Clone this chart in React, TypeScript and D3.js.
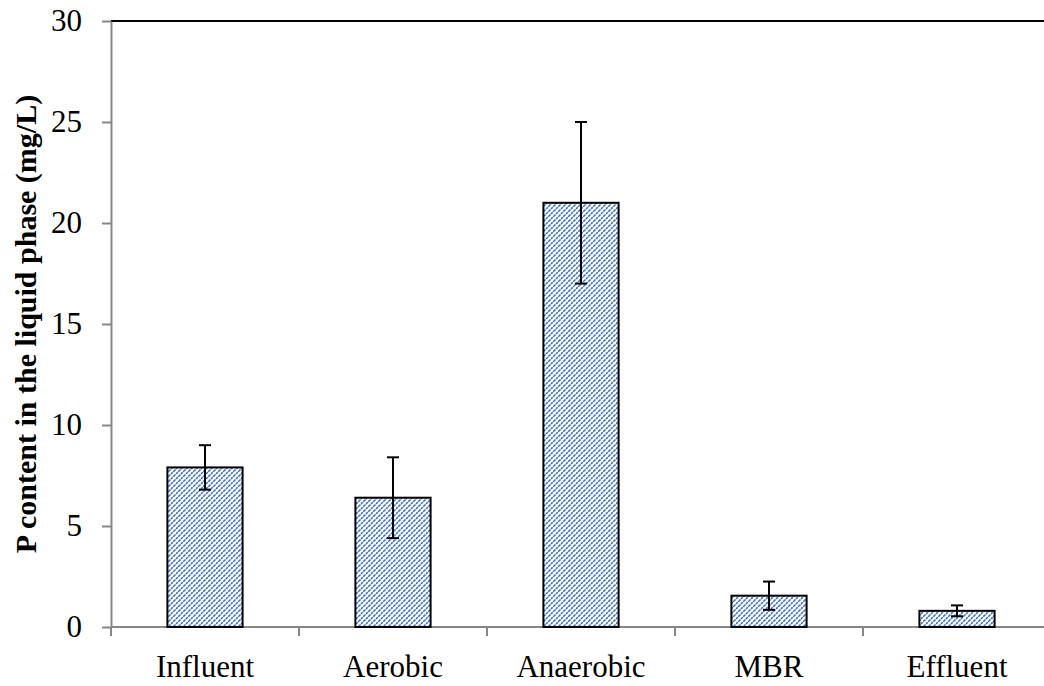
import React, { useEffect, useRef } from "react";
import * as d3 from "d3";

const categories = ["Influent", "Aerobic", "Anaerobic", "MBR", "Effluent"];
const values = [7.9, 6.4, 21.0, 1.55, 0.8];
const errors = [1.1, 2.0, 4.0, 0.7, 0.27];
const yTicks = [0, 5, 10, 15, 20, 25, 30];

const FONT = "'Liberation Serif', 'Times New Roman', serif";

const App = () => {
  const svgRef = useRef<SVGSVGElement>(null);

  useEffect(() => {
    const w = 1044;
    const left = 111;
    const top = 21;
    const bottom = 627;
    const band = 188;

    const svg = d3.select(svgRef.current);
    svg.selectAll("*").remove();

    // blue dotted diagonal hatch
    const pat = svg
      .append("defs")
      .append("pattern")
      .attr("id", "hatch")
      .attr("patternUnits", "userSpaceOnUse")
      .attr("width", 5)
      .attr("height", 5);
    pat.append("rect").attr("width", 5).attr("height", 5).attr("fill", "#ffffff");
    pat
      .append("path")
      .attr("d", "M-1,6 L6,-1 M-1,1 L1,-1 M4,6 L6,4")
      .attr("stroke", "#2f66c4")
      .attr("stroke-width", 1.5)
      .attr("stroke-dasharray", "2.2,0.8");

    const xScale = d3
      .scaleBand()
      .domain(categories)
      .range([left, left + band * categories.length])
      .paddingInner(0.6)
      .paddingOuter(0.3);

    const yScale = d3.scaleLinear().domain([0, 30]).range([bottom, top]);

    // top border
    svg
      .append("line")
      .attr("x1", left)
      .attr("x2", w)
      .attr("y1", top)
      .attr("y2", top)
      .attr("stroke", "#000")
      .attr("stroke-width", 2);

    // y axis
    const yAxis = d3
      .axisLeft(yScale)
      .tickValues(yTicks)
      .tickSize(9)
      .tickPadding(20)
      .tickSizeOuter(0);
    const gy = svg.append("g").attr("transform", `translate(${left},0)`).call(yAxis);
    gy.select(".domain").attr("stroke", "#868686").attr("stroke-width", 2);
    gy.selectAll(".tick line").attr("stroke", "#868686").attr("stroke-width", 2);
    gy.selectAll(".tick text")
      .attr("fill", "#000")
      .style("font-family", FONT)
      .style("font-size", "31px");

    // x axis with ticks at category boundaries
    const xBounds = d3.range(categories.length + 1).map((i) => left + band * i);
    svg
      .append("line")
      .attr("x1", left)
      .attr("x2", w)
      .attr("y1", bottom)
      .attr("y2", bottom)
      .attr("stroke", "#868686")
      .attr("stroke-width", 2);
    svg
      .selectAll(".xtick")
      .data(xBounds)
      .join("line")
      .attr("x1", (d) => d)
      .attr("x2", (d) => d)
      .attr("y1", bottom)
      .attr("y2", bottom + 9)
      .attr("stroke", "#868686")
      .attr("stroke-width", 2);
    svg
      .selectAll(".xlabel")
      .data(categories)
      .join("text")
      .attr("x", (d) => (xScale(d) as number) + xScale.bandwidth() / 2)
      .attr("y", 677)
      .attr("text-anchor", "middle")
      .style("font-family", FONT)
      .style("font-size", "31px")
      .text((d) => d);

    // bars
    svg
      .selectAll(".bar")
      .data(values)
      .join("rect")
      .attr("x", (v, i) => xScale(categories[i]) as number)
      .attr("y", (v) => yScale(v))
      .attr("width", xScale.bandwidth())
      .attr("height", (v) => bottom - yScale(v))
      .attr("fill", "url(#hatch)")
      .attr("stroke", "#000")
      .attr("stroke-width", 2);

    // error bars
    const eb = svg
      .selectAll(".err")
      .data(values)
      .join("g")
      .attr("transform", (v, i) => `translate(${(xScale(categories[i]) as number) + xScale.bandwidth() / 2},0)`);
    eb.append("line")
      .attr("y1", (v, i) => yScale(v + errors[i]))
      .attr("y2", (v, i) => yScale(v - errors[i]))
      .attr("stroke", "#000")
      .attr("stroke-width", 2);
    [1, -1].forEach((s) => {
      eb.append("line")
        .attr("x1", -6)
        .attr("x2", 6)
        .attr("y1", (v, i) => yScale(v + s * errors[i]))
        .attr("y2", (v, i) => yScale(v + s * errors[i]))
        .attr("stroke", "#000")
        .attr("stroke-width", 2);
    });

    // y title
    svg
      .append("text")
      .attr("transform", `translate(36,${(top + bottom) / 2}) rotate(-90)`)
      .attr("text-anchor", "middle")
      .style("font-family", FONT)
      .style("font-size", "30px")
      .style("font-weight", "bold")
      .text("P content in the liquid phase (mg/L)");
  }, []);

  return (
    <svg
      ref={svgRef}
      width={1044}
      height={686}
      style={{ position: "absolute", left: 0, top: 0, background: "#fff" }}
    ></svg>
  );
};

export default App;
